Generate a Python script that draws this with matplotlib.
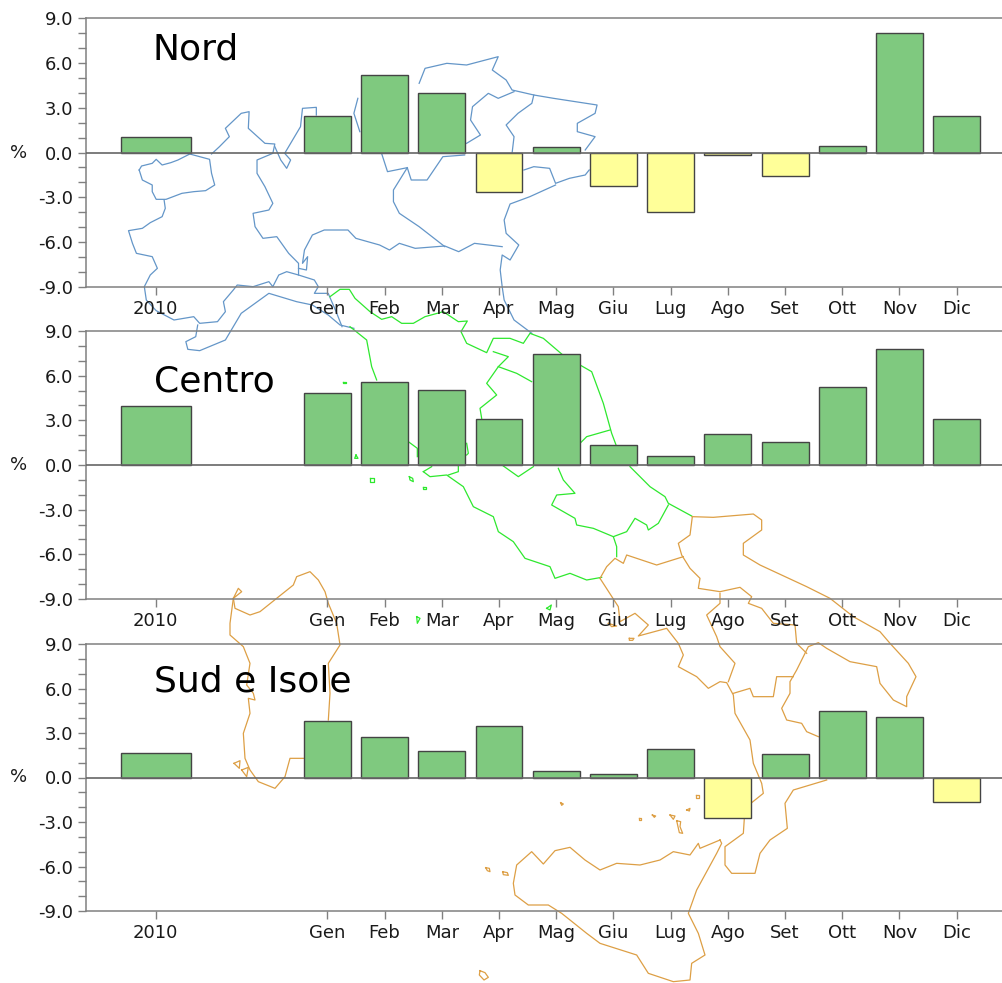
import matplotlib
matplotlib.use("Agg")
import matplotlib.pyplot as plt
import numpy as np

W, H = 1003, 983
months = ["Gen","Feb","Mar","Apr","Mag","Giu","Lug","Ago","Set","Ott","Nov","Dic"]
year_label = "2010"
panel_names = ["Nord","Centro","Sud e Isole"]
annual = [1.05, 3.95, 1.65]
nord = [2.45,5.2,4.0,-2.65,0.35,-2.25,-3.95,-0.15,-1.6,0.45,8.0,2.45]
centro = [4.85,5.6,5.05,3.1,7.45,1.35,0.6,2.1,1.55,5.25,7.8,3.1]
sud = [3.8,2.75,1.8,3.5,0.45,0.25,1.95,-2.7,1.6,4.5,4.05,-1.65]

# Region outlines, in crop coordinates
north_lines = [
 [(352,510),(358,498),(385,490),(395,478),(410,495),(432,488),(450,480),(480,462),(530,478),(535,520),(543,555),(520,572),(490,575),(460,580),(420,598),(395,598),(385,575),(385,555),(360,540),(352,510)],
 [(415,600),(418,625),(410,650),(380,668),(360,685),(325,692),(335,730),(345,760),(385,770),(398,805),(380,825),(365,860),(370,900),(395,932),(440,960),(490,950),(505,970),(550,965),(570,935),(565,905),(590,870),(600,855),(640,860),(680,845),(690,860),(705,825),(725,815),(755,825),(795,840),(805,860),(795,880),(830,880),(850,935),(865,980)],
 [(535,462),(555,440),(580,410),(570,385),(610,340),(630,335),(628,385),(670,430),(695,432),(690,460),(650,480),(650,520),(670,560),(690,610),(680,630),(640,640),(645,680),(665,715),(700,710),(730,760),(755,790),(755,825)],
 [(695,440),(710,480),(725,505),(735,480),(720,460),(740,420),(760,380),(765,325),(800,322),(800,345)],
 [(905,295),(895,340),(910,395)],
 [(1060,250),(1075,205),(1130,190),(1180,195),(1260,170),(1245,210),(1280,240),(1295,270),(1350,285),(1400,295),(1510,315),(1505,340),(1460,370),(1460,395),(1505,410),(1480,450)],
 [(1180,430),(1215,405),(1190,360),(1195,320),(1235,280),(1260,295),(1300,275)],
 [(1350,285),(1345,310),(1310,340),(1280,375),(1300,410),(1295,460)],
 [(1325,510),(1350,500),(1390,505),(1405,550),(1440,535),(1480,525),(1490,510)],
 [(1405,555),(1340,590),(1290,612),(1275,660),(1280,700),(1312,735),(1290,780),(1270,765),(1265,810),(1270,860),(1275,900),(1300,960),(1345,1000)],
 [(965,460),(980,515),(1030,503),(1040,540),(1080,540),(1120,470),(1175,465)],
 [(1030,503),(995,570),(995,605),(1010,640),(1060,680),(1125,740)],
 [(755,805),(775,810),(778,770),(765,790),(770,750),(790,705),(820,690),(880,690),(900,715),(960,735),(985,750),(1010,730),(1050,745),(1125,738),(1160,755),(1200,730),(1270,740)],
 [(500,975),(495,1010),(470,1025),(475,1048),(505,1052),(570,1020),(585,990),(610,940),(680,880),(750,905),(790,915),(830,945),(860,975),(895,985)],
]
north_scale = (0, 0, 2.529, 3.0)

centre_lines = [
 [(0,50),(30,28),(58,28),(75,55),(120,95),(155,118),(185,110),(215,130),(250,130),(285,110),(340,95),(385,125),(412,123),(393,155),(410,190),(470,218),(490,175),(540,175),(580,190),(600,160),(640,175),(695,222)],
 [(750,255),(785,275),(820,370),(845,460),(860,500)],
 [(900,560),(960,620),(1005,650),(1015,670),(1085,708)],
 [(490,215),(535,230),(505,260),(470,310),(500,345),(450,385),(455,415)],
 [(410,490),(415,520),(410,525)],
 [(505,260),(560,280),(605,305)],
 [(60,140),(110,180),(125,260),(140,300)],
 [(235,485),(262,505),(262,530)],
 [(750,490),(770,470),(840,450)],
 [(280,575),(300,590),(350,585),(400,620),(430,680),(490,710),(505,755),(550,785),(585,835),(660,860),(675,895),(720,880),(770,900),(815,892)],
 [(280,575),(305,560)],
 [(355,585),(385,575),(385,560)],
 [(520,558),(565,590),(610,560)],
 [(685,565),(700,600),(735,640),(680,645),(665,675),(735,715),(740,735),(790,745),(850,770),(860,800),(860,830)],
 [(850,770),(890,755),(915,715),(950,735),(955,750),(985,730),(1015,675)],
 [(78,525),(84,535),(74,535),(78,525)],
 [(120,595),(131,595),(131,605),(120,605),(120,595)],
 [(238,590),(248,595),(250,605),(240,600),(238,590)],
 [(280,620),(288,620),(288,626),(280,626),(280,620)],
 [(40,305),(48,305),(48,310),(40,310),(40,305)],
 [(650,985),(664,975),(660,990),(650,985)],
 [(260,1010),(270,1015),(262,1030),(260,1010)],
]
centre_scale = (330, 280, 3.0, 3.0)

south_lines = [
 [(697,50),(760,52),(880,42),(905,60),(905,90),(850,130),(850,165),(900,195),(1040,260),(1110,295),(1180,350),(1260,395),(1290,430),(1345,490),(1368,530),(1340,590),(1340,620),(1300,600),(1260,550),(1250,500),(1170,485),(1100,445),(1075,428),(1045,440),(1010,510),(990,545),(990,580),(965,625),(980,660),(1025,670),(1040,695),(1075,710)],
 [(1100,840),(1060,852),(1000,870),(975,910),(982,985),(930,1020),(900,1060),(885,1120),(815,1120),(795,1095),(795,1040),(850,1000),(853,955)],
 [(875,908),(910,880),(905,850),(880,790),(870,720),(825,640),(820,585),(800,548),(780,545),(745,565),(710,530),(655,500),(670,465),(655,430),(620,385),(535,408),(565,375),(525,340),(480,365),(475,320),(420,235)],
 [(697,50),(690,105),(655,130),(665,165),(690,205),(720,235),(715,265),(780,275),(840,262),(875,290),(865,310),(905,325),(940,370),(1005,375),(1010,430),(1040,460)],
 [(1000,530),(950,530),(940,590),(880,590),(870,565),(820,580)],
 [(780,280),(780,310),(740,345),(770,410),(780,440),(825,490),(805,545)],
 [(420,235),(440,200),(465,175),(490,190),(500,165),(590,195),(670,170)],
 [(780,1020),(720,1045),(715,1030),(690,1065),(640,1055),(600,1080),(540,1095),(470,1090),(420,1110),(375,1080),(330,1042),(285,1052),(250,1092),(215,1055),(170,1095),(160,1150),(165,1185),(205,1215),(265,1215),(305,1240),(380,1300),(420,1330),(530,1365),(565,1420),(640,1445),(690,1440),(695,1390),(735,1365),(715,1300),(685,1240),(710,1170),(770,1060),(785,1030),(780,1020)],
 [(707,885),(717,885),(717,893),(707,893),(707,885)],
 [(630,945),(645,948),(640,958),(630,945)],
 [(650,962),(662,965),(660,980),(668,1000),(658,998),(650,962)],
 [(680,930),(690,925),(688,933),(680,930)],
 [(577,945),(587,948),(583,952),(577,945)],
 [(536,953),(543,953),(543,959),(536,959),(536,953)],
 [(302,908),(310,912),(305,916),(302,908)],
 [(77,1103),(88,1105),(90,1115),(82,1112),(77,1103)],
 [(128,1115),(142,1118),(145,1126),(130,1124),(128,1115)],
 [(60,1412),(75,1418),(85,1432),(72,1440),(58,1425),(60,1412)],
 [(508,415),(522,415),(518,421),(508,421),(508,415)],
 [(445,370),(470,378),(455,380),(445,370)],
]
south_scale = (460, 500, 3.0, 3.0)

sardinia_lines = [
 [(70,115),(85,85),(95,95),(70,115),(75,145),(120,165),(150,155),(200,115),(250,75),(260,50),(300,35),(325,60),(345,95),(355,130),(380,190),(390,255),(355,310),(360,400),(355,480)],
 [(280,595),(240,595),(225,650),(195,685),(145,665),(120,630),(105,595),(100,520),(120,460),(115,415),(135,420),(130,400),(110,375),(120,310),(100,260),(60,225),(60,190),(70,115)],
 [(72,610),(90,602),(88,625),(72,610)],
 [(95,630),(115,622),(110,650),(95,630)],
]
sardinia_scale = (210, 560, 3.0, 3.0)

fig = plt.figure(figsize=(W/100, H/100), dpi=100)
plt.rcParams['font.family'] = 'DejaVu Sans'

bg = fig.add_axes([0, 0, 1, 1], zorder=0)
bg.set_xlim(0, W); bg.set_ylim(H, 0); bg.axis("off")
for lines, (ox, oy, sx, sy), col in [
    (north_lines, north_scale, "#6496c8"),
    (centre_lines, centre_scale, "#2ee82e"),
    (south_lines, south_scale, "#dd9f45"),
    (sardinia_lines, sardinia_scale, "#dd9f45")]:
    for seg in lines:
        a = np.array(seg, dtype=float)
        bg.plot(ox + a[:,0]/sx, oy + a[:,1]/sy, color=col, lw=0.9, solid_joinstyle="round")

rows = [(18,287),(331,599),(644,911)]
title_y = [60, 392, 692]
title_x = [153, 154, 154]
series = [nord, centro, sud]
GRID = "#808080"
x0, x1 = 86, 1003
xm = np.arange(12)
for i, (t, b) in enumerate(rows):
    ax = fig.add_axes([x0/W, 1-b/H, (x1-x0)/W, (b-t)/H], zorder=2+i)
    ax.patch.set_alpha(0)
    ax.set_xlim(-4.22, 11.81); ax.set_ylim(-9, 9)
    vals = np.array(series[i])
    cols = ["#7fc97f" if v >= 0 else "#ffff99" for v in vals]
    ax.bar(xm, vals, width=0.82, color=cols, edgecolor="#444444", lw=1, zorder=3)
    ax.bar([-3], [annual[i]], width=1.23, color="#7fc97f" if annual[i] >= 0 else "#ffff99",
           edgecolor="#444444", lw=1, zorder=3)
    ax.axhline(0, color="#666666", lw=1.2, zorder=4)
    ax.set_xticks(np.r_[-3, xm]); ax.set_xticklabels([year_label]+months)
    ax.set_yticks(np.arange(-9, 10, 3)); ax.set_yticklabels([f"{v:.1f}" for v in np.arange(-9, 10, 3)])
    ax.set_yticks(np.arange(-9, 10, 1), minor=True)
    ax.tick_params(axis="both", which="both", length=5.5, width=1, color=GRID, labelsize=13,
                   labelcolor="#1a1a1a")
    ax.tick_params(axis="y", pad=3.5)
    ax.tick_params(axis="x", pad=4)
    for s in ("top", "bottom", "left"):
        ax.spines[s].set_color(GRID); ax.spines[s].set_linewidth(1.1)
    ax.spines["right"].set_visible(False)
    fig.text(title_x[i]/W, 1-title_y[i]/H, panel_names[i], fontsize=26, color="black", ha="left", va="baseline", zorder=20)
    fig.text(19/W, 1-(t+b)/2/H, "%", fontsize=13, color="#1a1a1a", ha="center", va="center", zorder=20)

fig.savefig("out.png", dpi=100)
